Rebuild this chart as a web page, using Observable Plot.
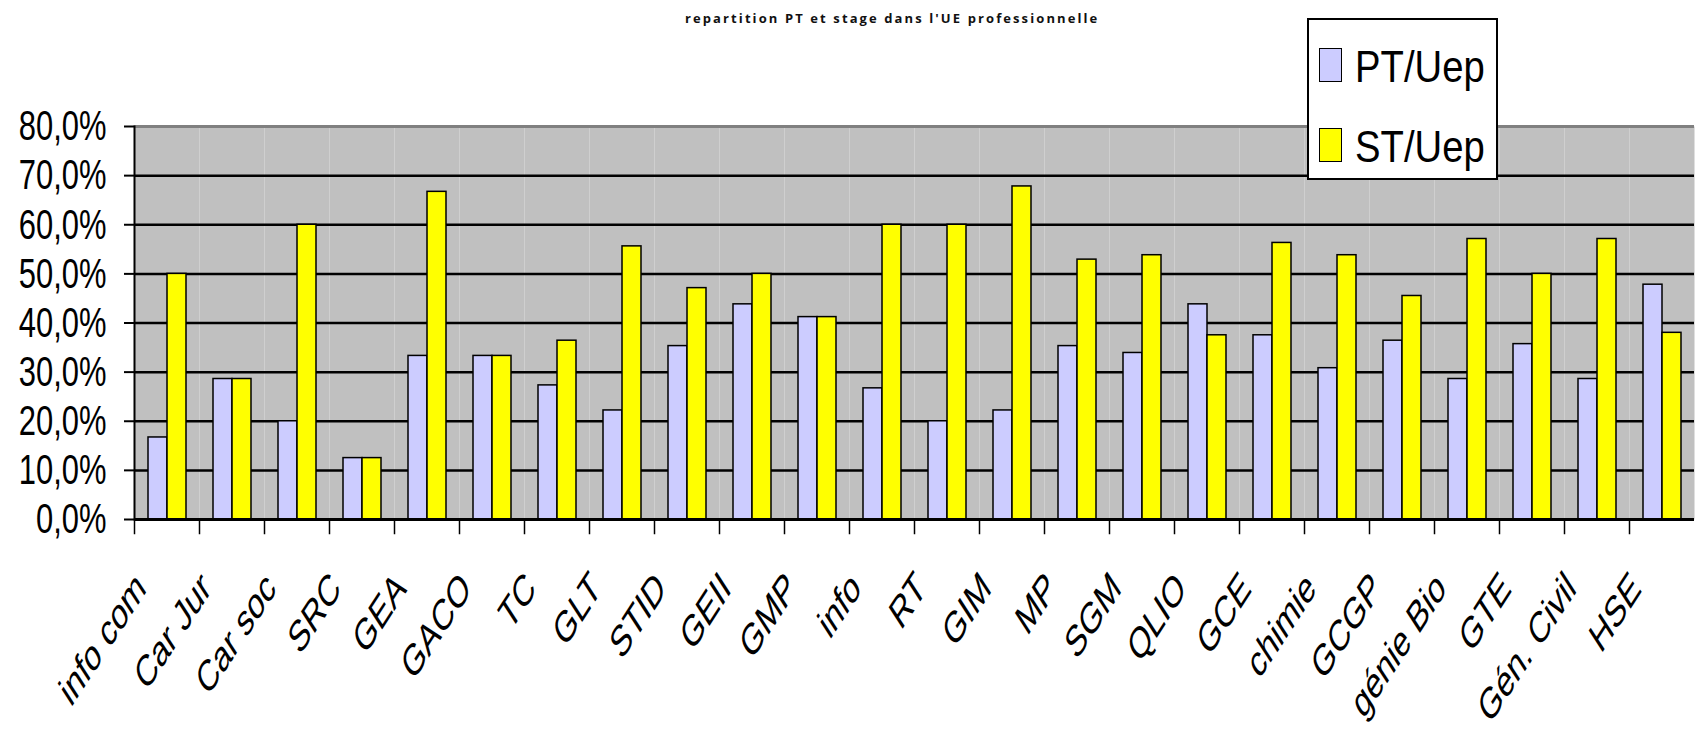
<!DOCTYPE html>
<html>
<head>
<meta charset="utf-8">
<script src="https://cdn.jsdelivr.net/npm/d3@7"></script>
<script src="https://cdn.jsdelivr.net/npm/@observablehq/plot@0.6"></script>
<style>
  html, body { margin: 0; padding: 0; background: #fff; }
  #wrap { position: relative; width: 1698px; height: 731px; overflow: hidden; font-family: "Liberation Sans", Arial, sans-serif; }
  #title { position: absolute; left: 685px; top: 12px; font-family: "Open Sans", sans-serif; font-weight: bold; font-size: 13px; line-height: 13px; letter-spacing: 2.1px; color: #111; white-space: nowrap; }
  #chart { position: absolute; left: 0; top: 30px; }
  #legend { position: absolute; left: 1307px; top: 18px; width: 187px; height: 158px; border: 2px solid #000; background: #fff; }
  .sw { position: absolute; left: 10px; width: 21px; height: 32px; border: 1.5px solid #000; }
  .lt { position: absolute; left: 46px; font-size: 45px; line-height: 45px; white-space: nowrap; transform: scaleX(0.85); transform-origin: 0 0; color: #000; }
</style>
</head>
<body>
<div id="wrap">
  <div id="title"></div>
  <div id="chart"></div>
  <div id="legend"></div>
</div>
<script>
const titleText = "repartition PT et stage dans l'UE professionnelle";
const categories = ["info com","Car Jur","Car soc","SRC","GEA","GACO","TC","GLT","STID","GEII","GMP","info","RT","GIM","MP","SGM","QLIO","GCE","chimie","GCGP","génie Bio","GTE","Gén. Civil","HSE"];
const series = ["PT/Uep", "ST/Uep"];
const seriesColors = ["#ccccff", "#ffff00"];
const ptValues = [16.7, 28.6, 20.0, 12.5, 33.3, 33.3, 27.3, 22.2, 35.3, 43.8, 41.2, 26.7, 20.0, 22.2, 35.3, 33.9, 43.8, 37.5, 30.8, 36.4, 28.6, 35.7, 28.6, 47.8];
const stValues = [50.0, 28.6, 60.0, 12.5, 66.7, 33.3, 36.4, 55.6, 47.1, 50.0, 41.2, 60.0, 60.0, 67.8, 52.9, 53.8, 37.5, 56.3, 53.8, 45.5, 57.1, 50.0, 57.1, 38.0];
const yTicks = [0, 10, 20, 30, 40, 50, 60, 70, 80];
const gridTicks = [10, 20, 30, 40, 50, 60, 70];

const data = categories.flatMap((c, i) => [
  {cat: c, series: series[0], value: ptValues[i]},
  {cat: c, series: series[1], value: stValues[i]}
]);

document.getElementById("title").textContent = titleText;

const chart = Plot.plot({
  width: 1698,
  height: 701,
  marginTop: 96,
  marginBottom: 212,
  marginLeft: 131,
  marginRight: 2,
  style: {background: "transparent", fontFamily: "'Liberation Sans', Arial, sans-serif", overflow: "visible", color: "#000"},
  fx: {domain: categories, paddingInner: 0, paddingOuter: 0, label: null},
  x: {domain: series, paddingInner: 0, paddingOuter: 0.68, axis: null},
  y: {domain: [0, 80], axis: null},
  color: {domain: series, range: seriesColors},
  marks: [
    Plot.frame({fill: "#c0c0c0"}),
    Plot.ruleY(gridTicks, {stroke: "#000", strokeWidth: 2.5}),
    Plot.ruleY([80], {stroke: "#808080", strokeWidth: 3}),
    Plot.barY(data, {fx: "cat", x: "series", y: "value", fill: "series", stroke: "#000", strokeWidth: 1.5, inset: 0}),
    Plot.ruleY([0], {stroke: "#000", strokeWidth: 3}),
    Plot.frame({anchor: "left", fx: [categories[0]], stroke: "#000", strokeWidth: 2}),
    Plot.frame({anchor: "left", insetTop: 393, insetBottom: -14, stroke: "#000", strokeWidth: 1.5}),
    Plot.axisY({ticks: yTicks, tickFormat: d => d.toFixed(1).replace(".", ",") + "%", tickSize: 10, tickPadding: 18, fontSize: 43, strokeWidth: 2, label: null}),
    Plot.axisFx({anchor: "bottom", tickRotate: -45, tickSize: 0, tickPadding: 61, fontSize: 44, dx: -26, label: null})
  ]
});
document.getElementById("chart").appendChild(chart);

function squeeze(nodes, s) {
  nodes.each(function() {
    let t = this.getAttribute("transform");
    if (t) {
      if (/rotate\(/.test(t)) t = t.replace(/rotate\(/, `scale(${s},1) rotate(`);
      else t = t + ` scale(${s},1)`;
    } else {
      const x = this.getAttribute("x") || 0, y = this.getAttribute("y") || 0;
      this.removeAttribute("x"); this.removeAttribute("y");
      t = `translate(${x},${y}) scale(${s},1)`;
    }
    this.setAttribute("transform", t);
  });
}
const svg = d3.select(chart.tagName.toLowerCase() === "svg" ? chart : chart.querySelector("svg"));
squeeze(svg.selectAll('g[aria-label="y-axis tick label"] text'), 0.72);
squeeze(svg.selectAll('g[aria-label="fx-axis tick label"] text'), 0.65);

const legend = d3.select("#legend");
series.forEach((s, i) => {
  legend.append("div").attr("class", "sw")
    .style("top", (28 + i * 80) + "px")
    .style("background", seriesColors[i]);
  legend.append("div").attr("class", "lt")
    .style("top", (24 + i * 80) + "px")
    .text(s);
});
</script>
</body>
</html>
